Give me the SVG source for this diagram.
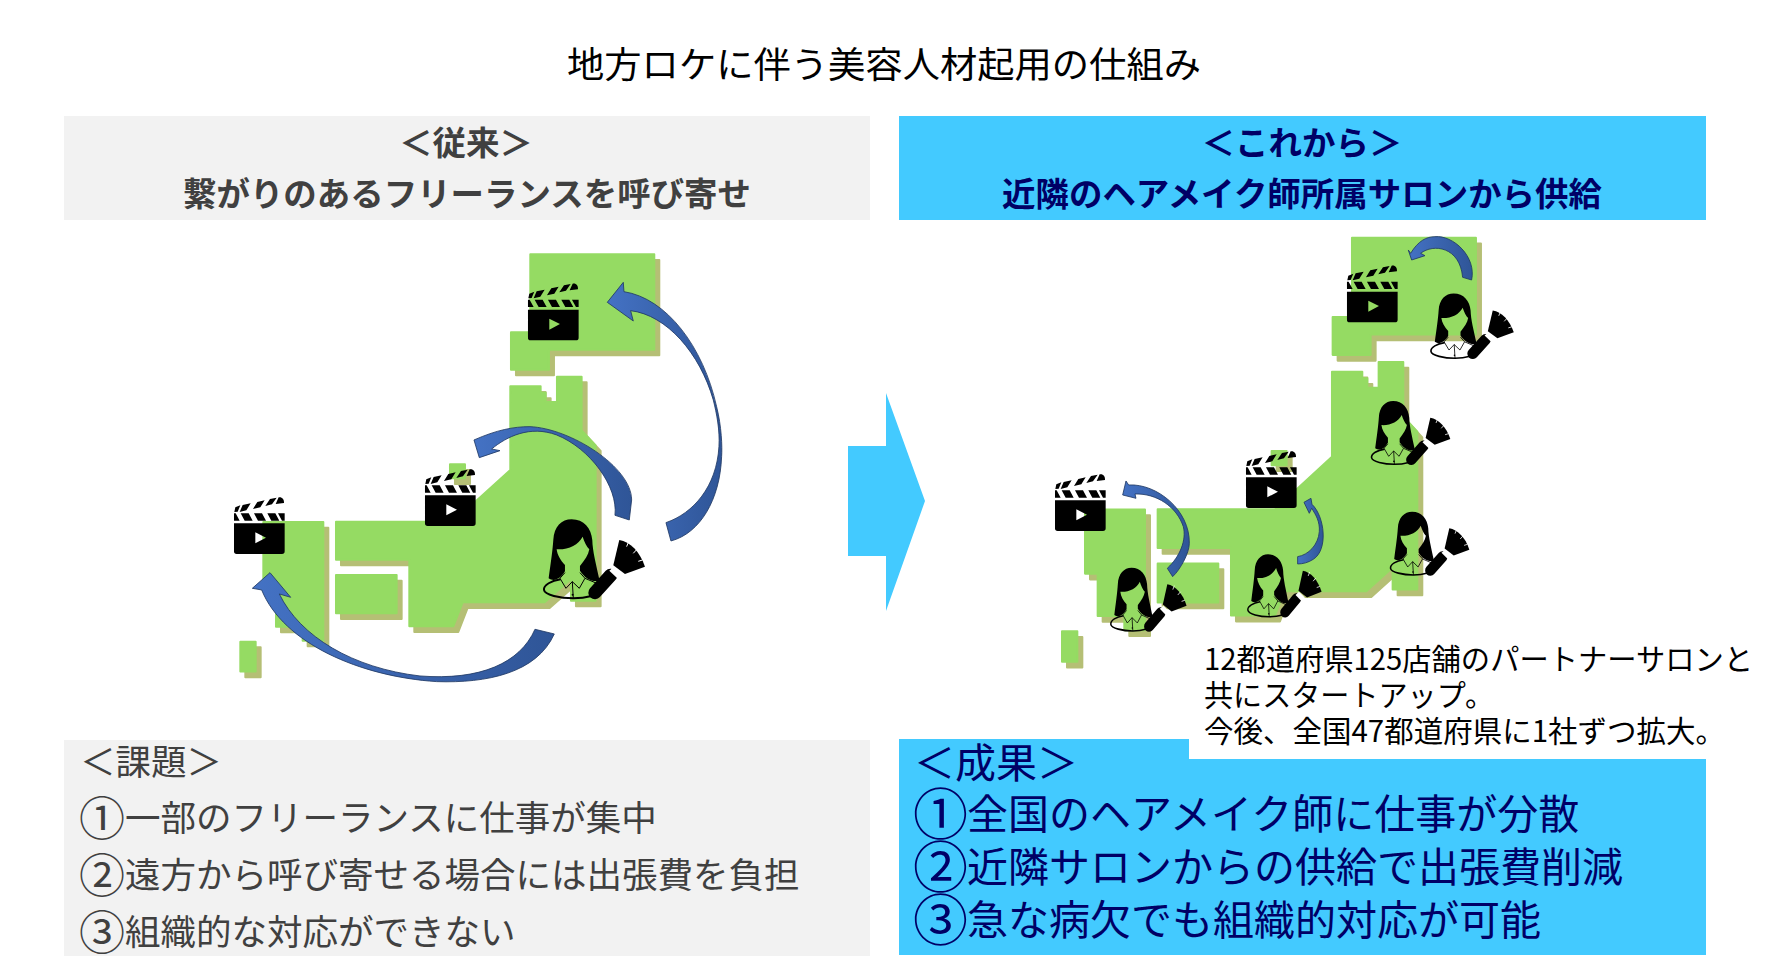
<svg xmlns="http://www.w3.org/2000/svg" xmlns:xlink="http://www.w3.org/1999/xlink" width="1776" height="968" viewBox="0 0 1776 968">
<style>
text{font-family:"Noto Sans CJK JP","Noto Sans",sans-serif;}
.title{font-size:36px;fill:#000;}
.hl{font-size:33.5px;font-weight:700;fill:#404040;text-anchor:middle;}
.hr{font-size:33.5px;font-weight:700;fill:#000066;text-anchor:middle;}
.bl{font-size:35.5px;fill:#404040;}
.br{font-size:41px;fill:#000066;}
.cl{font-size:46px;}
.cr{font-size:55px;}
.note{font-size:29.5px;fill:#000;}
.grey{fill:#F2F2F2;}
.blue{fill:#43CAFF;}
.land{fill:#95DB63;stroke:#95DB63;stroke-width:6;stroke-linejoin:round;}
.shade{fill:#B5BF75;stroke:#B5BF75;stroke-width:6;stroke-linejoin:round;}
.arc{fill:url(#arcFill);stroke:#1F3864;stroke-width:2.5;}
.line{fill:none;stroke:#000;}
</style>
<defs>
<linearGradient id="arcFill" x1="0" y1="0" x2="1" y2="0"><stop offset="0" stop-color="#4472C4"/><stop offset="1" stop-color="#2F5597"/></linearGradient>
<path id="japan" d="M931,43H1303V329H987V389H873V277H931Z M871,439H962V458H977V486H1011V410H1085V571L1127,616V1082H1053V1017L974,1087H728L700,1159H568V959H348V845H700L871,690Z M130,846H310V1202H248V1160H168V1035H130Z M348,1005H530V1120H348Z M61,1205H107V1295H61Z M690,673H735V715H690Z"/>
<g id="japanMap"><use xlink:href="#japan" href="#japan" class="shade" transform="translate(15,17)"/><use xlink:href="#japan" href="#japan" class="land"/></g>
<g id="clapper">
<path d="M0,79H152V163Q152,171 144,171H8Q0,171 0,163Z M64,106V139L96,122Z" fill-rule="evenodd" fill="#000"/>
<path d="M0,49H5L17,71H0Z M20,49H44L56,71H32Z M60,49H84L96,71H72Z M100,49H124L136,71H112Z M132,49H152V71H144Z M4,31L19,25L11,44L1,45Z M26,24L50,19L37,40L17,45Z M70,15L92,10L79,31L57,36Z M108,6L128,2L114,22L94,27Z M134,1C145,-1 151,8 150,18L125,21Z" fill="#000"/>
</g>
<g id="stylist">
<path d="M56,205C63,155 68,120 70,90C72,50 95,28 125,28C162,28 184,55 187,90C188,125 198,160 209,212C187,218 165,205 150,182V168C165,150 175,135 178,118C170,110 163,95 158,80C145,105 115,120 80,118C82,135 92,152 105,165V184C90,208 72,216 56,205Z" fill="#000"/>
<path class="line" stroke-width="6" d="M92,208C65,212 40,225 42,240C44,255 90,265 130,265C150,265 170,262 185,258"/>
<path class="line" stroke-width="3" d="M105,188L90,205L108,235L127,215L148,235L165,205L150,188M127,215L130,265M165,205L205,222"/>
<circle cx="128" cy="254" r="3" fill="#000"/>
<path d="M195,248L242,196" stroke="#000" stroke-width="40" stroke-linecap="round" fill="none"/>
<path d="M238,182L252,170L276,192L262,205Z" fill="#fff"/>
<path d="M250,166L268,90C300,95 330,125 345,170L285,192Z" fill="#000"/>
<path d="M296,95L290,110M321,118L310,130M338,150L325,154" stroke="#fff" stroke-width="3" fill="none"/>
</g>
</defs>

<g id="title"><text class="title" x="567" y="78" textLength="634" lengthAdjust="spacingAndGlyphs">地方ロケに伴う美容人材起用の仕組み</text></g>

<g id="header-left">
<rect class="grey" x="64" y="116" width="806" height="104"/>
<text class="hl" x="466" y="155">＜従来＞</text>
<text class="hl" x="467" y="206" textLength="568" lengthAdjust="spacingAndGlyphs">繋がりのあるフリーランスを呼び寄せ</text>
</g>
<g id="header-right">
<rect class="blue" x="899" y="116" width="807" height="104"/>
<text class="hr" x="1302" y="155">＜これから＞</text>
<text class="hr" x="1302" y="206" textLength="600" lengthAdjust="spacingAndGlyphs">近隣のヘアメイク師所属サロンから供給</text>
</g>

<g id="map-left" transform="translate(220,240) scale(0.3333)">
<use xlink:href="#japanMap" href="#japanMap"/>
<use xlink:href="#clapper" href="#clapper" transform="translate(42,771)"/>
<use xlink:href="#clapper" href="#clapper" transform="translate(615,687)"/>
<use xlink:href="#clapper" href="#clapper" transform="translate(924,130)"/>
<use xlink:href="#stylist" href="#stylist" transform="translate(930,810)"/>
</g>

<g id="map-right" transform="translate(1030,220) scale(0.3333)">
<use xlink:href="#japanMap" href="#japanMap" transform="translate(35,9.4) scale(1,1.016)"/>
<use xlink:href="#clapper" href="#clapper" transform="translate(75,762)"/>
<use xlink:href="#clapper" href="#clapper" transform="translate(648,693)"/>
<use xlink:href="#clapper" href="#clapper" transform="translate(951,136)"/>
<use xlink:href="#stylist" href="#stylist" transform="translate(1168.6,197.4) scale(0.82)"/>
<use xlink:href="#stylist" href="#stylist" transform="translate(992,521) scale(0.78,0.8)"/>
<use xlink:href="#stylist" href="#stylist" transform="translate(1049,853) scale(0.78,0.8)"/>
<use xlink:href="#stylist" href="#stylist" transform="translate(623,981) scale(0.73,0.79)"/>
<use xlink:href="#stylist" href="#stylist" transform="translate(211,1021) scale(0.75,0.8)"/>
</g>

<g id="connectors">
<g transform="translate(220,240) scale(0.3333)">
<path class="arc" d="M1162,187L1210,127L1212,155C1340,175 1450,320 1490,500C1505,560 1507,620 1505,650C1500,780 1440,880 1353,903L1338,848C1420,820 1490,740 1497,620C1500,570 1490,520 1480,480C1440,340 1340,225 1232,212L1240,243Z"/>
<path class="arc" d="M762,600C830,570 880,560 930,560C1050,565 1235,680 1235,780L1228,840L1185,826C1195,740 1110,625 1010,585C930,555 860,590 815,627L840,632L778,653Z"/>
<path class="arc" d="M97,1045L150,998L212,1072L178,1062C240,1190 400,1285 600,1308C780,1322 900,1270 945,1168L1003,1182C950,1300 800,1330 650,1325C420,1310 190,1210 125,1050Z"/>
</g>
<g transform="translate(1030,220) scale(0.3333)">
<path class="arc" d="M1135,90L1145,120L1185,107L1172,100C1210,70 1290,80 1298,172L1325,180C1340,110 1270,45 1215,50C1190,50 1165,62 1142,100Z"/>
<path class="arc" d="M278,825L288,783L296,795C380,790 480,870 478,970C478,1000 450,1050 428,1070L412,1045C450,1010 470,960 460,920C440,860 380,820 315,822L318,835Z"/>
<path class="arc" d="M822,847L843,835L846,853C885,890 895,990 850,1018C835,1028 818,1032 803,1032V1010C835,1005 865,975 868,935C870,905 858,885 845,865L838,880Z"/>
</g>
<path id="shift-arrow" class="blue" d="M848,446H886V393L925,501L886,611V556H848Z"/>
</g>

<g id="panel-left">
<rect class="grey" x="64" y="740" width="806" height="216"/>
<text class="bl" x="80" y="775">＜課題＞</text>
<text class="bl"><tspan class="cl" x="79" y="835">①</tspan><tspan x="125" y="831">一部のフリーランスに仕事が集中</tspan></text>
<text class="bl"><tspan class="cl" x="79" y="892">②</tspan><tspan x="125" y="888">遠方から呼び寄せる場合には出張費を負担</tspan></text>
<text class="bl"><tspan class="cl" x="79" y="949">③</tspan><tspan x="125" y="945">組織的な対応ができない</tspan></text>
</g>
<g id="panel-right">
<rect class="blue" x="899" y="739" width="807" height="216"/>
<text class="br" x="914" y="778">＜成果＞</text>
<text class="br"><tspan class="cr" x="913" y="834">①</tspan><tspan x="967" y="829">全国のヘアメイク師に仕事が分散</tspan></text>
<text class="br"><tspan class="cr" x="913" y="887">②</tspan><tspan x="967" y="882">近隣サロンからの供給で出張費削減</tspan></text>
<text class="br"><tspan class="cr" x="913" y="940">③</tspan><tspan x="967" y="935">急な病欠でも組織的対応が可能</tspan></text>
</g>
<g id="note">
<rect x="1189" y="640" width="587" height="119" fill="#fff"/>
<text class="note" x="1204" y="670" textLength="549" lengthAdjust="spacingAndGlyphs">12都道府県125店舗のパートナーサロンと</text>
<text class="note" x="1204" y="706" textLength="290" lengthAdjust="spacingAndGlyphs">共にスタートアップ。</text>
<text class="note" x="1204" y="742" textLength="521" lengthAdjust="spacingAndGlyphs">今後、全国47都道府県に1社ずつ拡大。</text>
</g>
</svg>
